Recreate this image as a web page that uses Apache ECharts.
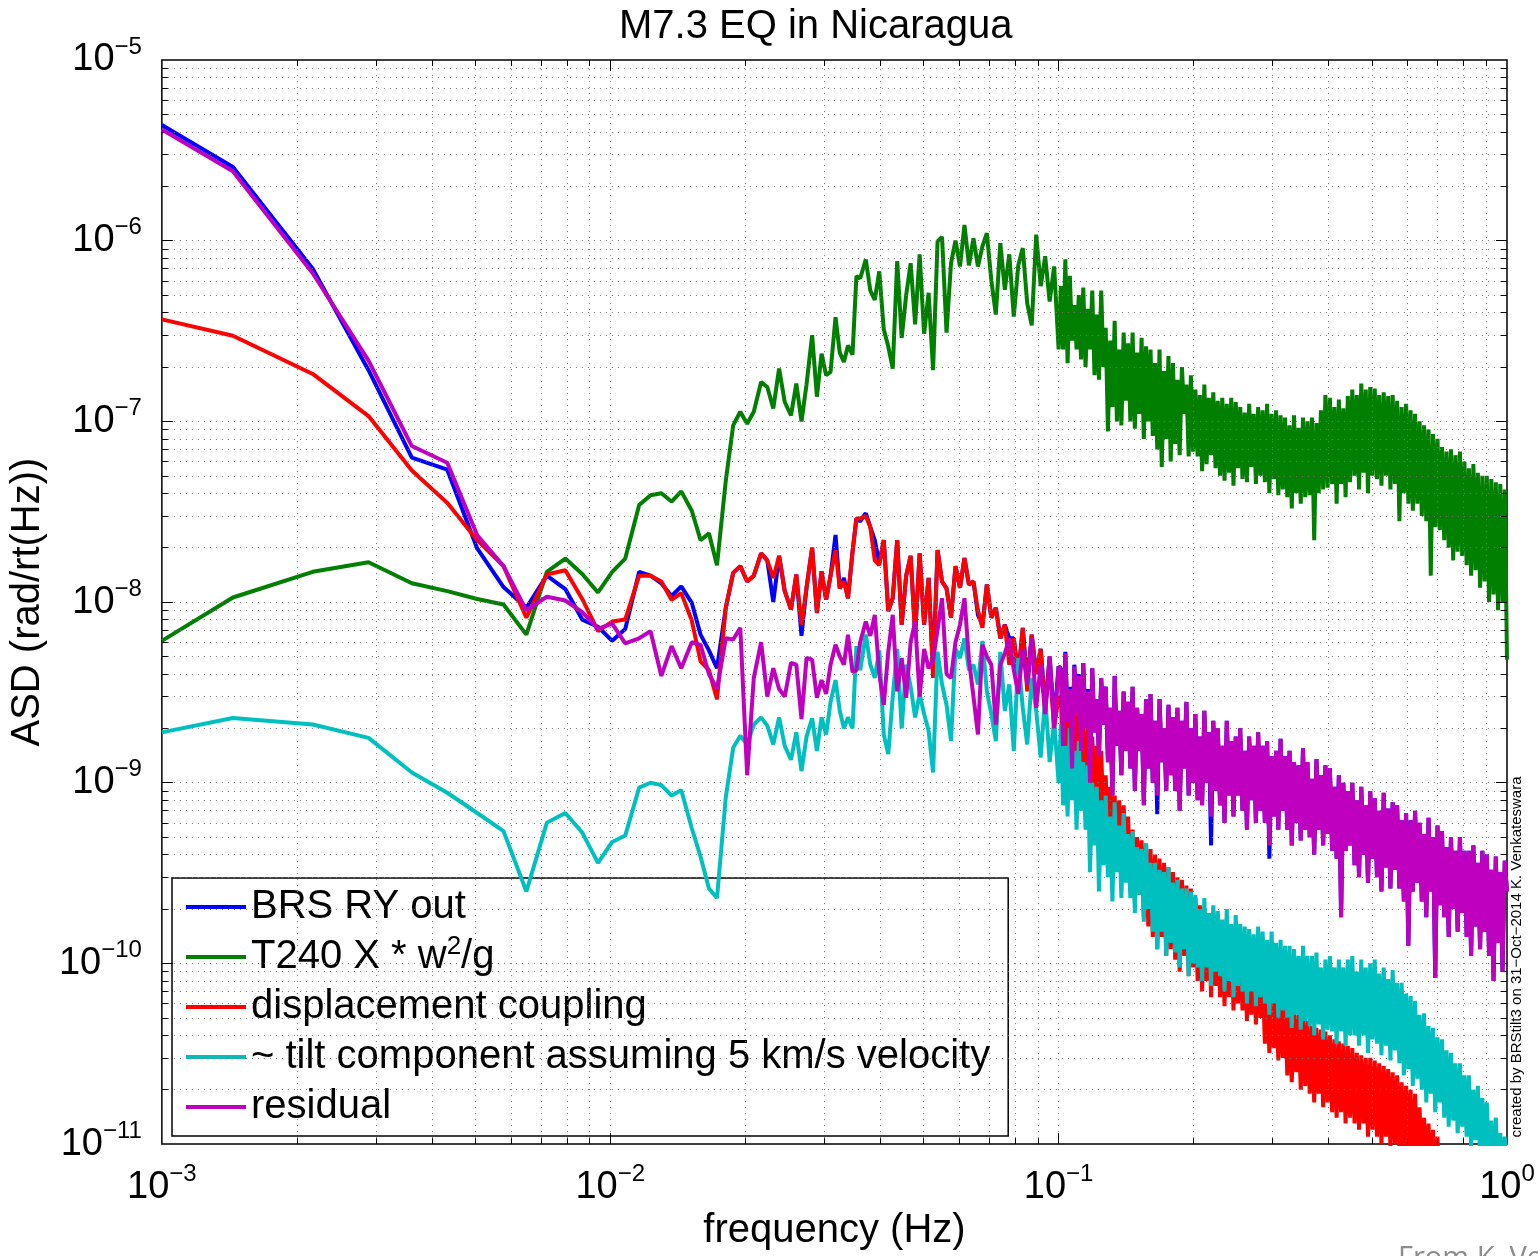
<!DOCTYPE html>
<html>
<head>
<meta charset="utf-8">
<script src="https://cdn.jsdelivr.net/npm/echarts@6/dist/echarts.min.js"></script>
<style>html,body{margin:0;padding:0;background:#fff}#chart{width:1538px;height:1256px}</style>
</head>
<body>
<div id="chart"></div>
<script>
// ---- frequency grid (Hz) ----
const freq = [
0.001,0.00144,0.00217,0.00289,0.00361,0.00433,0.00505,0.00578,0.0065,0.00722,
0.00794,0.00866,0.00939,0.0101,0.0108,0.0116,0.0123,0.013,0.0137,0.0144,
0.0152,0.0159,0.0166,0.0173,0.0181,0.0188,0.0195,0.0202,0.0209,0.0217,
0.0224,0.0231,0.0238,0.0245,0.0253,0.026,0.0267,0.0274,0.0282,0.0289,
0.0296,0.0303,0.031,0.0318,0.0325,0.0332,0.0339,0.0347,0.0354,0.0361,
0.03715,0.03802,0.0389,0.03981,0.04074,0.04169,0.04266,0.04365,0.04467,0.04571,
0.04677,0.04786,0.04898,0.05012,0.05129,0.05248,0.0537,0.05495,0.05623,0.05754,
0.05888,0.06026,0.06166,0.0631,0.06457,0.06607,0.06761,0.06918,0.07079,0.07244,
0.07413,0.07586,0.07762,0.07943,0.08128,0.08318,0.08511,0.0871,0.08913,0.0912,
0.09333,0.0955,0.09772,0.1,
0.10116,0.10233,0.10351,0.10471,0.10593,0.10715,0.10839,0.10965,0.11092,0.1122,
0.1135,0.11482,0.11614,0.11749,0.11885,0.12023,0.12162,0.12303,0.12445,0.12589,
0.12735,0.12882,0.13032,0.13183,0.13335,0.1349,0.13646,0.13804,0.13964,0.14125,
0.14289,0.14454,0.14622,0.14791,0.14962,0.15136,0.15311,0.15488,0.15668,0.15849,
0.16032,0.16218,0.16406,0.16596,0.16788,0.16982,0.17179,0.17378,0.17579,0.17783,
0.17989,0.18197,0.18408,0.1862,0.18836,0.19055,0.19275,0.19498,0.19724,0.19953,
0.20184,0.20417,0.20654,0.20893,0.21135,0.2138,0.21627,0.21878,0.22131,0.22387,
0.22646,0.22909,0.23174,0.23442,0.23714,0.23988,0.24266,0.24547,0.24831,0.25119,
0.2541,0.25704,0.26002,0.26303,0.26607,0.26915,0.27227,0.27542,0.27861,0.28184,
0.2851,0.2884,0.29174,0.29512,0.29854,0.302,0.30549,0.30903,0.31261,0.31623,
0.31989,0.32359,0.32734,0.33113,0.33497,0.33884,0.34277,0.34674,0.35075,0.35481,
0.35892,0.36308,0.36728,0.37154,0.37584,0.38019,0.38459,0.38905,0.39355,0.39811,
0.40272,0.40738,0.4121,0.41687,0.4217,0.42658,0.43152,0.43652,0.44157,0.44668,
0.45186,0.45709,0.46238,0.46774,0.47315,0.47863,0.48417,0.48978,0.49545,0.50119,
0.50699,0.51286,0.5188,0.5248,0.53088,0.53703,0.54325,0.54954,0.5559,0.56234,
0.56885,0.57544,0.5821,0.58884,0.59566,0.60256,0.60954,0.6166,0.62373,0.63096,
0.63826,0.64565,0.65313,0.66069,0.66834,0.67608,0.68391,0.69183,0.69984,0.70795,
0.71614,0.72444,0.73282,0.74131,0.74989,0.75858,0.76736,0.77625,0.78524,0.79433,
0.80353,0.81283,0.82224,0.83176,0.8414,0.85114,0.86099,0.87096,0.88105,0.89125,
0.90157,0.91201,0.92257,0.93325,0.94406,0.95499,0.96605,0.97724,0.98855,1.0
];

// ---- series values (rad/rt(Hz)) ----
const brsRyOut = [
4.37e-6,2.56e-6,7.0e-7,1.92e-7,6.3e-8,5.4e-8,1.98e-8,1.21e-8,9.3e-9,1.4e-8,
1.18e-8,8.0e-9,7.3e-9,6.1e-9,7.1e-9,1.47e-8,1.4e-8,1.27e-8,1.08e-8,1.22e-8,
9.9e-9,6.6e-9,5.4e-9,4.3e-9,9.3e-9,1.45e-8,1.58e-8,1.3e-8,1.4e-8,1.86e-8,
1.7e-8,1.0e-8,1.8e-8,1.15e-8,9.1e-9,1.42e-8,6.5e-9,1.2e-8,2.0e-8,8.7e-9,
1.48e-8,1.03e-8,1.4e-8,2.35e-8,1.19e-8,1.36e-8,1.05e-8,1.9e-8,2.9e-8,2.8e-8,
3.1e-8,2.6e-8,2.2e-8,1.64e-8,2.2e-8,8.9e-9,1.05e-8,2.2e-8,7.5e-9,1.4e-8,
1.8e-8,6.6e-9,1.86e-8,7.5e-9,1.36e-8,4.2e-9,1.94e-8,1.3e-8,1.19e-8,8.2e-9,
1.58e-8,1.2e-8,1.75e-8,1.25e-8,1.3e-8,8.5e-9,7.5e-9,1.25e-8,8.2e-9,9.3e-9,
6.3e-9,7.5e-9,6.3e-9,6.3e-9,4.0e-9,7.2e-9,3.6e-9,6.6e-9,4.0e-9,5.5e-9,
2.6e-9,5.0e-9,2.2e-9,4.4e-9,
4.3e-9,1.7e-9,5.3e-9,2.3e-9,3.4e-9,1.3e-9,4.5e-9,2.5e-9,4.0e-9,1.6e-9,
4.6e-9,2.0e-9,3.3e-9,9e-10,4.3e-9,1.9e-9,2.9e-9,1.4e-9,3.8e-9,2.1e-9,
3.4e-9,1.3e-9,2.6e-9,8.5e-10,3.9e-9,1.6e-9,2.5e-9,1.1e-9,3.2e-9,1.5e-9,
2.8e-9,1.2e-9,3.4e-9,9e-10,2.6e-9,1.5e-9,2.4e-9,7.5e-10,2.9e-9,1.2e-9,
3.1e-9,1.0e-9,2.2e-9,6.7e-10,2.9e-9,1.3e-9,2.0e-9,9e-10,2.7e-9,1.1e-9,
2.3e-9,9e-10,2.6e-9,7e-10,2.2e-9,1.2e-9,2.8e-9,8.5e-10,2.0e-9,1.0e-9,
2.4e-9,8e-10,1.8e-9,7.5e-10,2.5e-9,1.0e-9,1.9e-9,4.5e-10,2.2e-9,9e-10,
2.0e-9,7.5e-10,1.6e-9,6e-10,2.2e-9,8.5e-10,1.7e-9,6.5e-10,1.8e-9,8.5e-10,
2.0e-9,7e-10,1.5e-9,5.5e-10,1.8e-9,8e-10,1.6e-9,6e-10,1.9e-9,7e-10,
1.6e-9,6e-10,1.7e-9,3.8e-10,1.4e-9,6.5e-10,1.5e-9,5.5e-10,1.75e-9,7e-10,
1.4e-9,5.5e-10,1.5e-9,4.5e-10,1.3e-9,6e-10,1.25e-9,4.8e-10,1.55e-9,5.5e-10,
1.3e-9,5e-10,1.05e-9,4e-10,1.35e-9,5.5e-10,1.1e-9,4.5e-10,1.25e-9,5.2e-10,
1.2e-9,4.2e-10,9.5e-10,3.8e-10,1.1e-9,1.8e-10,1.0e-9,4.2e-10,9e-10,4.5e-10,
1.0e-9,3.5e-10,8e-10,3e-10,9.5e-10,4e-10,7.5e-10,2.8e-10,9e-10,3.8e-10,
8.2e-10,3e-10,7e-10,2.5e-10,8.8e-10,3.4e-10,7.2e-10,2.6e-10,7.8e-10,3.3e-10,
7.5e-10,2.6e-10,6.2e-10,2.2e-10,6.8e-10,1.25e-10,6.2e-10,2.5e-10,7e-10,2.8e-10,
6e-10,2.2e-10,5.2e-10,1.8e-10,6.4e-10,2.5e-10,5e-10,8.3e-11,5.8e-10,2.1e-10,
5.4e-10,1.8e-10,4.4e-10,1.4e-10,5e-10,2e-10,4.2e-10,1.5e-10,5e-10,1.9e-10,
4.2e-10,1.4e-10,4.2e-10,1.1e-10,4.5e-10,1.6e-10,3.6e-10,1.2e-10,4.2e-10,1.5e-10,
4e-10,1.1e-10,3.3e-10,8e-11,3.9e-10,1.3e-10,3.2e-10,9e-11,3.7e-10,2.5e-10
];

const t240 = [
6.1e-9,1.06e-8,1.47e-8,1.66e-8,1.27e-8,1.15e-8,1.04e-8,9.7e-9,6.6e-9,1.47e-8,
1.74e-8,1.43e-8,1.13e-8,1.47e-8,1.74e-8,3.44e-8,3.9e-8,4.0e-8,3.6e-8,4.1e-8,
3.2e-8,2.2e-8,2.4e-8,1.6e-8,4.7e-8,9.5e-8,1.13e-7,9.7e-8,1.13e-7,1.65e-7,
1.55e-7,1.18e-7,1.96e-7,1.28e-7,1.08e-7,1.62e-7,1.0e-7,1.6e-7,3.0e-7,1.37e-7,
2.37e-7,1.8e-7,1.88e-7,3.77e-7,2.4e-7,2.13e-7,2.63e-7,2.34e-7,6.36e-7,6.2e-7,
7.86e-7,5.3e-7,4.7e-7,6.77e-7,3.23e-7,2.6e-7,1.96e-7,7.7e-7,2.9e-7,5.0e-7,
7.5e-7,3.44e-7,8.4e-7,3.05e-7,5.15e-7,1.92e-7,9.9e-7,1.05e-6,3.1e-7,7.5e-7,
1.0e-6,7.2e-7,1.22e-6,7.3e-7,1.03e-6,7.2e-7,9.3e-7,1.1e-6,6.0e-7,3.9e-7,
9.7e-7,5.35e-7,8.4e-7,3.8e-7,7.3e-7,9.1e-7,4.5e-7,3.4e-7,1.08e-6,5.6e-7,
8.2e-7,4.6e-7,7.2e-7,2.5e-7,
5.6e-7,2.5e-7,7.9e-7,2.1e-7,6.4e-7,2.8e-7,4.4e-7,2.5e-7,5.0e-7,2.2e-7,
5.5e-7,2.0e-7,4.2e-7,2.5e-7,5.3e-7,1.8e-7,3.9e-7,1.7e-7,5.3e-7,2.0e-7,
3.3e-7,8.8e-8,2.8e-7,1.2e-7,3.6e-7,1.0e-7,2.5e-7,9.5e-8,3.1e-7,1.3e-7,
2.7e-7,1.0e-7,3.1e-7,9.1e-8,2.4e-7,1.1e-7,2.9e-7,8e-8,2.6e-7,1.0e-7,
2.5e-7,8.3e-8,2.1e-7,7e-8,2.5e-7,5.6e-8,1.9e-7,8e-8,2.3e-7,6e-8,
2.1e-7,7.5e-8,1.7e-7,6.5e-8,2.0e-7,1.1e-7,1.6e-7,6.4e-8,1.8e-7,6.8e-8,
1.5e-7,6.4e-8,1.4e-7,5.3e-8,1.6e-7,5.8e-8,1.35e-7,6.5e-8,1.45e-7,5.5e-8,
1.3e-7,5e-8,1.35e-7,4.7e-8,1.25e-7,5.2e-8,1.35e-7,4.4e-8,1.28e-7,5.5e-8,
1.2e-7,4.8e-8,1.12e-7,4.6e-8,1.25e-7,5.6e-8,1.1e-7,4.5e-8,1.2e-7,5e-8,
1.15e-7,4.6e-8,1.25e-7,4e-8,1.1e-7,4.8e-8,1.15e-7,3.9e-8,1.08e-7,4.2e-8,
1.05e-7,3.8e-8,9.5e-8,3.3e-8,1.08e-7,4e-8,9.2e-8,3.5e-8,1.05e-7,3.8e-8,
1.0e-7,3.9e-8,1.05e-7,2.2e-8,9.8e-8,4e-8,1.15e-7,4.2e-8,1.4e-7,4.3e-8,
1.35e-7,4.5e-8,1.2e-7,3.5e-8,1.32e-7,4.5e-8,1.18e-7,3.8e-8,1.38e-7,4.6e-8,
1.5e-7,5e-8,1.4e-7,4.2e-8,1.62e-7,5.2e-8,1.5e-7,4e-8,1.55e-7,5e-8,
1.52e-7,4.8e-8,1.4e-7,4.4e-8,1.45e-7,5e-8,1.38e-7,4.2e-8,1.4e-7,4.5e-8,
1.3e-7,2.8e-8,1.2e-7,4e-8,1.25e-7,3.5e-8,1.15e-7,3.2e-8,1.1e-7,3.5e-8,
1.0e-7,3e-8,9.5e-8,2.8e-8,9e-8,1.4e-8,8.5e-8,2.6e-8,8e-8,2.5e-8,
7.2e-8,2.2e-8,6.8e-8,2e-8,7e-8,1.7e-8,6.5e-8,1.9e-8,6.8e-8,1.8e-8,
6e-8,1.6e-8,5.5e-8,1.4e-8,5.8e-8,1.5e-8,5.2e-8,1.2e-8,5e-8,1.3e-8,
5e-8,1.0e-8,4.8e-8,1.1e-8,4.6e-8,9e-9,4.5e-8,1.0e-8,4.2e-8,4.8e-9
];

const dispCoupling = [
3.67e-7,2.98e-7,1.83e-7,1.07e-7,5.35e-8,3.54e-8,2.2e-8,1.58e-8,8.2e-9,1.42e-8,
1.5e-8,1.04e-8,6.9e-9,7.8e-9,8.0e-9,1.4e-8,1.4e-8,1.3e-8,1.03e-8,1.12e-8,
7.9e-9,4.7e-9,4.2e-9,2.9e-9,9.3e-9,1.45e-8,1.58e-8,1.3e-8,1.4e-8,1.86e-8,
1.7e-8,1.36e-8,1.8e-8,1.15e-8,9.1e-9,1.42e-8,7.5e-9,1.2e-8,2.0e-8,8.7e-9,
1.48e-8,1.03e-8,1.4e-8,1.94e-8,1.19e-8,1.3e-8,1.05e-8,1.9e-8,2.9e-8,2.9e-8,
3.0e-8,2.6e-8,1.7e-8,1.6e-8,2.2e-8,8.9e-9,1.05e-8,2.2e-8,7.5e-9,1.4e-8,
1.8e-8,6.6e-9,1.86e-8,7.5e-9,1.36e-8,3.8e-9,1.94e-8,1.3e-8,1.19e-8,8.2e-9,
1.58e-8,1.2e-8,1.75e-8,1.25e-8,1.3e-8,9e-9,7.2e-9,1.25e-8,8.2e-9,9.3e-9,
6.3e-9,7.5e-9,4.5e-9,6.3e-9,3.8e-9,7.2e-9,3.2e-9,6.6e-9,4.0e-9,5.5e-9,
2.6e-9,4.4e-9,2.0e-9,3.0e-9,
2.9e-9,1.3e-9,3.1e-9,1.1e-9,2.6e-9,1.2e-9,2.8e-9,1.0e-9,2.4e-9,1.1e-9,
2.2e-9,8.5e-10,2.0e-9,7.5e-10,1.8e-9,8e-10,1.6e-9,6.5e-10,1.5e-9,6e-10,
1.1e-9,4.5e-10,9.5e-10,4.2e-10,8.5e-10,4.5e-10,8e-10,3.8e-10,7.5e-10,4e-10,
6.5e-10,2.5e-10,5.5e-10,2.2e-10,5e-10,2.4e-10,4.8e-10,1.8e-10,4.6e-10,1.6e-10,
4.3e-10,1.4e-10,4e-10,1.2e-10,3.8e-10,1.4e-10,3.6e-10,1.1e-10,3.4e-10,1.2e-10,
3.2e-10,1.05e-10,3e-10,9e-11,2.9e-10,1.1e-10,2.7e-10,8.5e-11,2.6e-10,9.5e-11,
2.3e-10,8e-11,2.1e-10,7e-11,2.0e-10,8e-11,1.9e-10,6.5e-11,1.8e-10,7.5e-11,
1.7e-10,6.5e-11,1.6e-10,5.8e-11,1.5e-10,6.5e-11,1.45e-10,5.5e-11,1.4e-10,6e-11,
1.3e-10,5.5e-11,1.25e-10,4.8e-11,1.2e-10,5.2e-11,1.15e-10,4.6e-11,1.1e-10,5e-11,
9e-11,3.6e-11,8e-11,3.2e-11,7.5e-11,3.4e-11,7e-11,2.9e-11,6.5e-11,3e-11,
6e-11,2.4e-11,5.6e-11,2.2e-11,5.4e-11,2.5e-11,5.2e-11,2.0e-11,5e-11,2.1e-11,
4.8e-11,1.9e-11,4.5e-11,1.7e-11,4.4e-11,1.9e-11,4.3e-11,1.6e-11,4.2e-11,1.7e-11,
4e-11,1.5e-11,3.8e-11,1.4e-11,3.7e-11,1.5e-11,3.6e-11,1.3e-11,3.5e-11,1.4e-11,
3.4e-11,1.3e-11,3.2e-11,1.2e-11,3.1e-11,1.3e-11,3e-11,1.1e-11,3e-11,1.2e-11,
2.9e-11,1.1e-11,2.8e-11,1.0e-11,2.7e-11,1.1e-11,2.6e-11,9.5e-12,2.5e-11,1.0e-11,
2.4e-11,9e-12,2.2e-11,8e-12,2.1e-11,8.5e-12,2e-11,7e-12,1.9e-11,7.5e-12,
1.6e-11,6.5e-12,1.4e-11,6e-12,1.3e-11,5.5e-12,1.2e-11,5e-12,1.1e-11,5e-12,
9e-12,4.5e-12,8.5e-12,4e-12,8e-12,4e-12,7.5e-12,3.5e-12,7e-12,3.5e-12,
6.5e-12,3e-12,6e-12,3e-12,5.5e-12,2.8e-12,5e-12,2.5e-12,5e-12,2.5e-12,
4.5e-12,2.2e-12,4.2e-12,2e-12,4e-12,2e-12,3.8e-12,1.8e-12,3.5e-12,2e-12
];

const tiltComponent = [
1.9e-9,2.28e-9,2.1e-9,1.77e-9,1.14e-9,8.8e-10,6.8e-10,5.4e-10,2.5e-10,6.0e-10,
6.8e-10,5.3e-10,3.6e-10,4.7e-10,5.1e-10,9.4e-10,1.0e-9,9.7e-10,8.5e-10,9.1e-10,
5.6e-10,3.9e-10,2.6e-10,2.3e-10,8.3e-10,1.56e-9,1.82e-9,1.63e-9,2.1e-9,2.3e-9,
2.07e-9,1.63e-9,2.3e-9,1.6e-9,1.34e-9,1.9e-9,1.16e-9,1.8e-9,2.27e-9,1.5e-9,
2.3e-9,1.85e-9,2.8e-9,3.7e-9,2.5e-9,2.0e-9,2.3e-9,2.0e-9,5.7e-9,4.2e-9,
6.6e-9,4.5e-9,3.8e-9,5.4e-9,1.85e-9,1.44e-9,3.0e-9,5.5e-9,2.0e-9,4.5e-9,
3.4e-9,2.3e-9,3.1e-9,2.4e-9,1.94e-9,1.14e-9,5.3e-9,3.5e-9,2.7e-9,1.7e-9,
5.5e-9,4.9e-9,6.3e-9,4.2e-9,4.5e-9,3.5e-9,6.1e-9,3.2e-9,2.4e-9,1.7e-9,
5.3e-9,2.5e-9,3.5e-9,1.5e-9,4.9e-9,2.6e-9,1.63e-9,3.8e-9,2.5e-9,1.38e-9,
3.0e-9,1.3e-9,2.2e-9,1.0e-9,
2.1e-9,7.5e-10,1.6e-9,6.5e-10,2.0e-9,8e-10,1.5e-9,5.5e-10,1.7e-9,7e-10,
1.3e-9,5.5e-10,1.25e-9,3.2e-10,1.0e-9,4.5e-10,9.5e-10,2.5e-10,8e-10,3.5e-10,
8.5e-10,3e-10,6.5e-10,2.2e-10,7.8e-10,3.2e-10,5.8e-10,2.3e-10,6.8e-10,2.8e-10,
5.2e-10,2.3e-10,5.4e-10,1.9e-10,4.4e-10,2.4e-10,4.3e-10,1.7e-10,4.6e-10,2e-10,
3.6e-10,1.5e-10,3.6e-10,1.2e-10,3.3e-10,1.5e-10,3.2e-10,1.1e-10,3.4e-10,1.3e-10,
2.8e-10,1.15e-10,2.9e-10,9.5e-11,2.6e-10,1.2e-10,2.6e-10,8.5e-11,2.5e-10,1.0e-10,
2.4e-10,9.5e-11,2.0e-10,8e-11,2.3e-10,9.5e-11,1.9e-10,7.5e-11,2.1e-10,9e-11,
1.95e-10,8.5e-11,1.75e-10,7e-11,2.0e-10,8e-11,1.65e-10,6.5e-11,1.85e-10,7.5e-11,
1.65e-10,7e-11,1.6e-10,6e-11,1.55e-10,7e-11,1.45e-10,5.8e-11,1.6e-10,6.5e-11,
1.5e-10,6e-11,1.35e-10,5.2e-11,1.5e-10,6e-11,1.3e-10,5e-11,1.35e-10,5.5e-11,
1.25e-10,5e-11,1.25e-10,4.4e-11,1.2e-10,5.2e-11,1.1e-10,4.3e-11,1.25e-10,4.8e-11,
1.1e-10,4.5e-11,1.1e-10,4e-11,1.15e-10,4.6e-11,9.5e-11,3.8e-11,1.05e-10,4.3e-11,
1.1e-10,4.2e-11,9.5e-11,3.6e-11,1.05e-10,4.2e-11,9.5e-11,3.5e-11,1.05e-10,4e-11,
1.1e-10,4e-11,9e-11,3.5e-11,1.05e-10,4e-11,9.5e-11,3.2e-11,1.0e-10,3.8e-11,
1.05e-10,3.6e-11,8.8e-11,3.1e-11,9.5e-11,3.5e-11,8.2e-11,2.9e-11,9.2e-11,3.3e-11,
7.8e-11,2.8e-11,7.8e-11,2.4e-11,6.8e-11,2.6e-11,6.6e-11,2.1e-11,6.2e-11,2.3e-11,
5.2e-11,2e-11,5.3e-11,1.7e-11,4.5e-11,1.9e-11,4.4e-11,1.5e-11,3.9e-11,1.7e-11,
3.8e-11,1.4e-11,3.3e-11,1.25e-11,3.2e-11,1.35e-11,2.8e-11,1.15e-11,2.8e-11,1.25e-11,
2.4e-11,1.1e-11,2.4e-11,9.5e-12,2.0e-11,1.05e-11,2.1e-11,8.5e-12,1.8e-11,9.5e-12,
1.7e-11,8e-12,1.35e-11,7.5e-12,1.4e-11,7e-12,1.15e-11,6.5e-12,1.1e-11,6e-12
];

const residual = [
4.12e-6,2.42e-6,6.6e-7,2.17e-7,7.3e-8,5.9e-8,2.34e-8,1.58e-8,9.0e-9,1.07e-8,
1.02e-8,8.8e-9,7.1e-9,7.6e-9,5.9e-9,6.3e-9,6.9e-9,3.9e-9,5.7e-9,4.3e-9,
6.0e-9,5.8e-9,4.0e-9,3.3e-9,6.3e-9,6.2e-9,7.2e-9,1.1e-9,3.8e-9,6.0e-9,
3.0e-9,4.3e-9,3.3e-9,3.0e-9,4.6e-9,4.5e-9,2.25e-9,4.9e-9,4.8e-9,2.95e-9,
3.7e-9,3.1e-9,4.5e-9,5.8e-9,5.0e-9,4.5e-9,6.6e-9,4.1e-9,4.2e-9,6.0e-9,
7.8e-9,6.5e-9,8.5e-9,4.0e-9,2.7e-9,5.3e-9,8.5e-9,3.2e-9,4.9e-9,2.95e-9,
6.0e-9,7.8e-9,3.0e-9,5.5e-9,4.3e-9,4.8e-9,7.0e-9,1.05e-8,4.0e-9,3.8e-9,
6.0e-9,7.5e-9,1.05e-8,4.8e-9,3.0e-9,1.85e-9,5.8e-9,5.0e-9,4.5e-9,2.1e-9,
4.5e-9,5.2e-9,6.3e-9,4.2e-9,3.1e-9,5.5e-9,3.5e-9,6.3e-9,2.6e-9,4.5e-9,
2.4e-9,5.0e-9,2.0e-9,4.4e-9,
4.2e-9,1.6e-9,5.2e-9,2.2e-9,3.3e-9,1.2e-9,4.4e-9,2.4e-9,3.9e-9,1.5e-9,
4.6e-9,2.0e-9,3.2e-9,1.0e-9,4.3e-9,1.9e-9,2.9e-9,1.4e-9,3.8e-9,2.1e-9,
3.4e-9,1.3e-9,2.6e-9,8.5e-10,3.9e-9,1.6e-9,2.5e-9,1.1e-9,3.2e-9,1.5e-9,
2.8e-9,1.2e-9,3.4e-9,9e-10,2.6e-9,1.5e-9,2.4e-9,7.5e-10,2.9e-9,1.2e-9,
3.1e-9,1.0e-9,2.2e-9,8.5e-10,2.9e-9,1.3e-9,2.0e-9,9e-10,2.7e-9,1.1e-9,
2.3e-9,9e-10,2.6e-9,7e-10,2.2e-9,1.2e-9,2.8e-9,8.5e-10,2.0e-9,1.0e-9,
2.4e-9,8e-10,1.8e-9,7.5e-10,2.5e-9,1.0e-9,1.9e-9,6.5e-10,2.2e-9,9e-10,
2.0e-9,7.5e-10,1.6e-9,6e-10,2.2e-9,8.5e-10,1.7e-9,6.5e-10,1.8e-9,8.5e-10,
2.0e-9,7e-10,1.5e-9,5.5e-10,1.8e-9,8e-10,1.6e-9,6e-10,1.9e-9,7e-10,
1.6e-9,6e-10,1.7e-9,4.5e-10,1.4e-9,6.5e-10,1.5e-9,5.5e-10,1.75e-9,7e-10,
1.4e-9,5.5e-10,1.5e-9,4.5e-10,1.3e-9,6e-10,1.25e-9,4.8e-10,1.55e-9,5.5e-10,
1.3e-9,5e-10,1.05e-9,4e-10,1.35e-9,5.5e-10,1.1e-9,4.5e-10,1.25e-9,5.2e-10,
1.2e-9,4.2e-10,9.5e-10,3.8e-10,1.1e-9,1.8e-10,1.0e-9,4.2e-10,9e-10,4.5e-10,
1.0e-9,3.5e-10,8e-10,3e-10,9.5e-10,4e-10,7.5e-10,2.8e-10,9e-10,3.8e-10,
8.2e-10,3e-10,7e-10,2.5e-10,8.8e-10,3.4e-10,7.2e-10,2.6e-10,7.8e-10,3.3e-10,
7.5e-10,2.6e-10,6.2e-10,2.2e-10,6.8e-10,1.25e-10,6.2e-10,2.5e-10,7e-10,2.8e-10,
6e-10,2.2e-10,5.2e-10,1.8e-10,6.4e-10,2.5e-10,5e-10,8.3e-11,5.8e-10,2.1e-10,
5.4e-10,1.8e-10,4.4e-10,1.4e-10,5e-10,2e-10,4.2e-10,1.5e-10,5e-10,1.9e-10,
4.2e-10,1.4e-10,4.2e-10,1.1e-10,4.5e-10,1.6e-10,3.6e-10,1.2e-10,4.2e-10,1.5e-10,
4e-10,1.1e-10,3.3e-10,8e-11,3.9e-10,1.3e-10,3.2e-10,9e-11,3.7e-10,2.5e-10
];

// ---- axes / labels ----
const xTicks = [1e-3, 1e-2, 1e-1, 1];
const yTicks = [1e-11, 1e-10, 1e-9, 1e-8, 1e-7, 1e-6, 1e-5];
const seriesNames = ['BRS RY out', 'T240 X * w^2/g', 'displacement coupling', '~ tilt component assuming 5 km/s velocity', 'residual'];
const seriesColors = ['#0000FF', '#007F00', '#FF0000', '#00BFBF', '#BF00BF'];
const seriesValues = [brsRyOut, t240, dispCoupling, tiltComponent, residual];

const FONT = 'Liberation Sans, Arial, Helvetica, sans-serif';
const xMin = xTicks[0], xMax = xTicks[xTicks.length - 1];
const yMin = yTicks[0], yMax = yTicks[yTicks.length - 1];

// dotted grid (major + minor, MATLAB style)
const gridLines = [];
for (let e = -3; e < 0; e++) for (let m = 1; m <= 9; m++) {
  const v = m * Math.pow(10, e);
  if (v > xMin * 1.0001 && v < xMax * 0.9999) gridLines.push([{ coord: [v, yMin] }, { coord: [v, yMax] }]);
}
for (let e = -11; e < -5; e++) for (let m = 1; m <= 9; m++) {
  const v = m * Math.pow(10, e);
  if (v > yMin * 1.0001 && v < yMax * 0.9999) gridLines.push([{ coord: [xMin, v] }, { coord: [xMax, v] }]);
}
// inward ticks on all four sides
const tickLines = [];
const kyMaj = Math.pow(10, 11 / 181.33), kyMin = Math.pow(10, 6 / 181.33);
const kxMaj = Math.pow(10, 11 / 449), kxMin = Math.pow(10, 6 / 449);
for (let e = -3; e < 0; e++) for (let m = 1; m <= 9; m++) {
  const v = m * Math.pow(10, e);
  if (v <= xMin * 1.0001) continue;
  const k = m === 1 ? kyMaj : kyMin;
  tickLines.push([{ coord: [v, yMin] }, { coord: [v, yMin * k] }]);
  tickLines.push([{ coord: [v, yMax] }, { coord: [v, yMax / k] }]);
}
for (let e = -11; e < -5; e++) for (let m = 1; m <= 9; m++) {
  const v = m * Math.pow(10, e);
  if (v <= yMin * 1.0001) continue;
  const k = m === 1 ? kxMaj : kxMin;
  tickLines.push([{ coord: [xMin, v] }, { coord: [xMin * k, v] }]);
  tickLines.push([{ coord: [xMax, v] }, { coord: [xMax / k, v] }]);
}

const powLabel = v => {
  const e = Math.round(Math.log10(v));
  return '{b|10}{e|' + (e < 0 ? '\u2212' : '') + Math.abs(e) + '}';
};
const labelRich = {
  b: { fontSize: 38, fontFamily: FONT, color: '#000', lineHeight: 50 },
  e: { fontSize: 24, fontFamily: FONT, color: '#000', lineHeight: 16, verticalAlign: 'top' }
};

const series = [
  { name: '_grid', type: 'line', data: [[0.01, 1e-8]], showSymbol: false, silent: true,
    lineStyle: { opacity: 0 }, z: 1, animation: false,
    markLine: { silent: true, symbol: ['none', 'none'], label: { show: false }, animation: false,
      lineStyle: { color: '#777', width: 1, type: [1, 5] }, emphasis: { disabled: true }, data: gridLines } }
];
seriesNames.forEach((name, i) => {
  series.push({
    name, type: 'line', showSymbol: false, symbol: 'none', z: 2 + i, animation: false,
    data: freq.map((f, j) => [f, seriesValues[i][j]]),
    lineStyle: { color: seriesColors[i], width: 4 }, itemStyle: { color: seriesColors[i] },
    emphasis: { disabled: true }
  });
});
series.push({ name: '_ticks', type: 'line', data: [[0.01, 1e-8]], showSymbol: false, silent: true,
  lineStyle: { opacity: 0 }, z: 9, animation: false,
  markLine: { silent: true, symbol: ['none', 'none'], label: { show: false }, animation: false,
    lineStyle: { color: '#000', width: 1, type: 'solid' }, emphasis: { disabled: true }, data: tickLines } });

const chart = echarts.init(document.getElementById('chart'), null, { renderer: 'canvas' });
chart.setOption({
  backgroundColor: '#fff',
  animation: false,
  title: { text: 'M7.3 EQ in Nicaragua', left: 614, top: 2,
    textStyle: { fontSize: 40, fontWeight: 'normal', fontFamily: FONT, color: '#000' } },
  grid: { left: 160, right: 31, top: 60, bottom: 108, show: true, borderColor: '#000', borderWidth: 1.5, backgroundColor: 'transparent' },
  xAxis: {
    type: 'log', logBase: 10, min: xMin, max: xMax,
    name: 'frequency (Hz)', nameLocation: 'middle', nameGap: 64,
    nameTextStyle: { fontSize: 40, fontFamily: FONT, color: '#000' },
    axisLine: { show: false }, axisTick: { show: false }, splitLine: { show: false },
    axisLabel: { margin: 18, formatter: powLabel, rich: labelRich, showMinLabel: true, showMaxLabel: true }
  },
  yAxis: {
    type: 'log', logBase: 10, min: yMin, max: yMax,
    name: 'ASD (rad/rt(Hz))', nameLocation: 'middle', nameGap: 96,
    nameTextStyle: { fontSize: 40, fontFamily: FONT, color: '#000' },
    axisLine: { show: false }, axisTick: { show: false }, splitLine: { show: false },
    axisLabel: { margin: 20, formatter: powLabel, rich: labelRich, showMinLabel: true, showMaxLabel: true }
  },
  legend: {
    data: seriesNames, orient: 'vertical', left: 172, top: 878,
    padding: [6, 18, 6, 14], itemWidth: 60, itemHeight: 4, itemGap: 4, icon: 'rect',
    backgroundColor: '#fff', borderColor: '#000', borderWidth: 1.5, borderRadius: 0,
    selectedMode: false,
    formatter: n => n === 'T240 X * w^2/g' ? 'T240 X * w{sup|2}/g' : n,
    textStyle: { fontSize: 40, fontFamily: FONT, color: '#000', lineHeight: 46,
      rich: { sup: { fontSize: 26, fontFamily: FONT, color: '#000', lineHeight: 24, verticalAlign: 'top' } } }
  },
  graphic: [
    { type: 'text', x: 1517, y: 957, rotation: Math.PI / 2, z: 10,
      style: { text: 'created by BRStilt3 on 31\u2212Oct\u22122014 K. Venkateswara', fontSize: 15, fontFamily: FONT,
        fill: '#000', textAlign: 'center', textVerticalAlign: 'middle' } },
    { type: 'text', left: 1398, top: 1244, z: 10,
      style: { text: 'From K. Venkateswara', fontSize: 29, fontFamily: 'Open Sans, Lato, sans-serif', fill: '#8c8c8c' } }
  ],
  series
});
</script>
</body>
</html>
